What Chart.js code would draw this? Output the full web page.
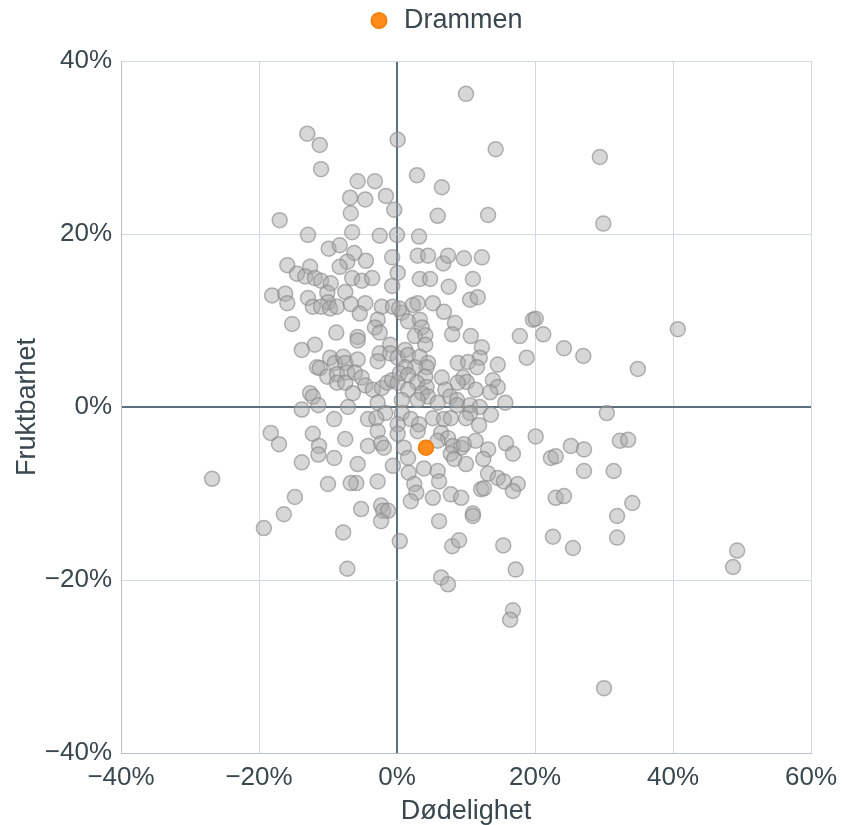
<!DOCTYPE html>
<html><head><meta charset="utf-8">
<script src="https://cdn.jsdelivr.net/npm/chart.js@4/dist/chart.umd.min.js"></script>
<style>html,body{margin:0;padding:0;background:#fff}#wrap{width:851px;height:825px}</style>
</head><body><div id="wrap"><canvas id="c" width="851" height="825"></canvas></div>
<script>
const seriesLabels = ["Kommuner", "Drammen"];
const xTickValues = [-40, -20, 0, 20, 40, 60];
const yTickValues = [-40, -20, 0, 20, 40];
const mortality = [10.0,0.1,-13.0,-11.2,14.3,29.4,-11.0,-5.7,-3.2,-6.8,-4.6,-1.6,-0.4,-6.7,-17.0,-12.9,-6.5,-2.5,0.0,-9.9,-8.3,-6.2,-4.5,-0.7,-15.9,-12.6,-7.2,-8.3,0.1,-14.5,-13.3,-11.9,-11.0,-9.6,-6.5,-5.1,-3.6,-0.7,-18.1,-16.2,-15.9,-12.9,-10.1,-7.5,-10.0,-12.2,-11.0,-9.7,-8.7,-6.7,-4.6,-5.4,-2.2,-0.6,0.7,-2.8,-3.2,-2.5,-15.2,-8.8,-5.7,-5.7,-11.9,-13.8,-2.5,-1.0,-1.0,-2.8,0.1,-11.6,-11.2,-9.7,-9.0,-7.8,-7.5,-5.7,-10.1,-8.7,-7.2,-8.7,-7.5,-6.1,-5.1,-4.6,-3.5,-2.2,-1.4,-0.7,0.1,-2.8,-12.6,-12.2,-11.4,-6.4,-7.1,-13.8,-1.7,2.9,6.5,5.9,13.2,3.2,3.0,4.5,6.7,7.4,9.7,12.3,3.3,4.8,11.0,7.5,2.3,3.0,5.2,10.6,11.7,6.8,0.3,1.6,3.3,3.6,8.4,8.0,2.6,4.1,10.7,17.8,19.7,12.3,12.0,4.1,1.2,1.6,3.3,18.8,14.6,8.8,10.3,11.6,4.5,4.3,2.6,1.2,0.4,1.6,6.5,9.6,10.1,8.8,4.1,2.9,4.3,13.9,14.6,13.5,11.4,7.0,7.7,8.7,8.7,3.6,4.5,1.6,0.7,3.0,10.6,12.0,15.7,5.9,0.7,10.6,29.9,20.1,21.2,24.2,27.0,40.7,34.9,30.4,-4.2,-3.0,0.1,2.0,3.2,5.2,6.8,7.8,10.0,11.9,13.6,-2.8,0.1,3.0,6.4,7.4,-4.2,-2.3,-1.9,1.0,5.9,8.1,9.3,9.7,11.4,13.2,15.8,16.8,20.1,22.3,23.0,25.2,-5.7,-2.8,-0.6,1.6,1.7,3.9,5.9,6.1,7.8,8.3,10.0,12.5,13.2,14.6,15.5,17.5,12.2,12.6,16.8,-5.9,2.5,2.8,5.2,7.8,9.3,23.0,24.2,-5.2,-2.3,-2.0,-1.3,2.0,11.0,11.0,6.1,-18.3,-17.1,-12.2,-11.3,-11.4,-9.1,-13.8,-7.5,-10.0,-6.7,-14.8,-16.4,-26.8,-9.1,32.3,33.5,27.1,27.1,31.4,34.1,31.9,-19.3,-7.8,-7.2,-2.3,0.4,8.0,9.0,15.4,17.2,6.4,7.4,16.8,16.4,22.6,25.5,31.9,49.3,48.7,30.0];
const fertility = [36.2,30.9,31.6,30.3,29.8,28.9,27.5,26.1,26.1,24.2,24.0,24.4,22.8,22.4,21.6,19.9,20.2,19.8,19.9,18.3,18.7,17.8,16.9,17.3,16.4,16.2,16.8,16.2,15.5,15.4,15.1,14.9,14.6,14.3,14.9,14.6,14.9,14.0,12.9,13.1,12.0,12.6,13.2,13.3,12.1,11.6,11.6,11.4,11.6,11.9,12.0,10.8,11.6,11.6,10.9,10.1,9.2,8.6,9.6,8.6,8.1,7.7,7.2,6.6,6.2,7.2,6.2,5.3,5.7,4.6,4.5,5.7,5.1,5.8,5.1,5.5,3.5,3.8,4.0,2.8,2.8,4.0,3.4,2.5,2.0,2.2,2.8,3.1,2.8,0.5,1.6,1.2,0.2,1.6,0.0,-0.3,-0.7,26.8,25.4,22.1,22.2,19.7,17.5,17.5,16.6,17.5,17.2,17.3,14.8,14.8,14.8,13.9,11.8,12.0,12.0,12.4,12.7,11.0,11.4,9.9,10.1,9.2,9.7,8.4,8.2,8.3,8.2,8.2,10.1,6.9,5.7,7.2,6.6,6.0,5.8,5.7,4.9,5.1,5.2,4.6,5.1,4.6,4.6,4.6,3.9,3.7,3.4,3.4,2.9,2.8,3.5,2.8,2.3,3.1,2.3,1.7,2.0,2.0,1.2,0.8,0.2,1.6,1.2,2.0,0.8,0.8,0.2,0.0,0.5,0.5,-0.7,-0.7,21.2,10.2,8.4,6.8,5.9,9.0,4.4,-0.7,-1.4,-1.3,-2.0,-1.4,-2.0,-1.3,-1.4,-1.3,-1.3,-2.1,-0.9,-2.8,-3.1,-2.8,-3.0,-3.6,-4.5,-4.2,-4.7,-4.7,-3.9,-4.5,-4.7,-4.3,-3.9,-4.9,-4.2,-5.4,-3.4,-5.9,-5.7,-4.5,-6.6,-8.6,-6.8,-5.9,-7.6,-7.1,-7.4,-8.6,-5.4,-6.0,-6.6,-6.0,-7.7,-8.2,-8.6,-8.9,-9.5,-9.4,-9.7,-8.8,-8.9,-9.9,-10.5,-10.1,-10.5,-10.5,-10.3,-11.8,-11.4,-12.0,-12.0,-10.9,-12.3,-12.6,-13.2,-3.0,-4.3,-3.1,-4.5,-5.5,-5.9,-6.4,-3.7,-8.9,-8.8,-10.4,-12.4,-8.3,-1.4,-3.9,-3.8,-4.9,-7.4,-7.4,-11.1,-12.6,-14.0,-14.5,-18.7,-13.2,-15.5,-16.1,-15.4,-16.0,-18.8,-19.7,-20.5,-23.5,-24.6,-15.0,-16.3,-15.1,-16.6,-18.5,-32.5];
const drammenX = [4.2];
const drammenY = [-4.7];

const greyPts = mortality.map((x, i) => ({x: x, y: fertility[i]}));
const orangePts = drammenX.map((x, i) => ({x: x, y: drammenY[i]}));
const FONT = "'Liberation Sans', Arial, sans-serif";
const TXT = '#3a474f';
const fmt = (v) => (v < 0 ? '\u2212' + Math.abs(v) : String(v)) + '%';
const gridColor = (c) => c.tick && c.tick.value === 0 ? '#5b6f7c' : '#d3dbe2';
const gridWidth = (c) => c.tick && c.tick.value === 0 ? 2 : 1;

const legendTweak = {
  id: 'legendTweak',
  beforeInit(chart) {
    const orig = chart.legend.fit;
    chart.legend.fit = function () { orig.call(this); this.height += 17; };
  },
  afterLayout(chart) {
    chart.legend.left += 34;
    chart.legend.right += 34;
  }
};

new Chart(document.getElementById('c'), {
  type: 'scatter',
  plugins: [legendTweak],
  data: {
    datasets: [
      { label: seriesLabels[0], data: greyPts, pointRadius: 7.5, pointHoverRadius: 7.5,
        backgroundColor: 'rgba(170,170,170,0.47)', borderColor: 'rgba(135,135,135,0.62)', borderWidth: 1.5, order: 2 },
      { label: seriesLabels[1], data: orangePts, pointRadius: 7.5, pointHoverRadius: 7.5,
        backgroundColor: 'rgba(255,140,26,1)', borderColor: 'rgba(240,125,15,1)', borderWidth: 1.5, order: 1 }
    ]
  },
  options: {
    responsive: false, animation: false,
    layout: { padding: { left: 11, right: 40, top: 0, bottom: 0 } },
    plugins: {
      tooltip: { enabled: false },
      legend: {
        position: 'top',
        labels: {
          filter: (item) => item.text === seriesLabels[1],
          usePointStyle: true, pointStyle: 'circle', boxWidth: 23, boxHeight: 11,
          color: TXT, font: { family: FONT, size: 27 }, padding: 7
        }
      }
    },
    scales: {
      x: {
        type: 'linear', min: -40, max: 60,
        afterBuildTicks: (s) => { s.ticks = xTickValues.map(v => ({value: v})); },
        afterFit: (s) => { s.height = 72; },
        ticks: { callback: fmt, color: TXT, font: { family: FONT, size: 26 }, padding: 9, maxRotation: 0 },
        grid: { color: gridColor, lineWidth: gridWidth, drawTicks: false },
        border: { display: true, color: '#b8c2ca', width: 1 },
        title: { display: true, text: 'Dødelighet', color: TXT, font: { family: FONT, size: 27, lineHeight: 1.0 }, padding: { top: 0, bottom: 0 } }
      },
      y: {
        type: 'linear', min: -40, max: 40,
        afterBuildTicks: (s) => { s.ticks = yTickValues.map(v => ({value: v})); },
        afterFit: (s) => { s.width = 110; },
        ticks: { callback: fmt, color: TXT, font: { family: FONT, size: 26 }, padding: 9 },
        grid: { color: gridColor, lineWidth: gridWidth, drawTicks: false },
        border: { display: true, color: '#b8c2ca', width: 1 },
        title: { display: true, text: 'Fruktbarhet', color: TXT, font: { family: FONT, size: 27 }, padding: { top: 0, bottom: 0 } }
      }
    }
  }
});
</script>
</body></html>
